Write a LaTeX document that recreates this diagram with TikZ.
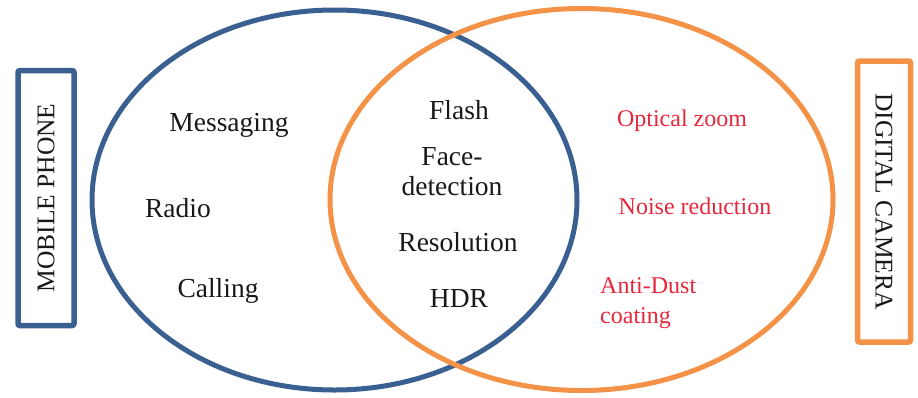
\documentclass[tikz,border=0pt]{standalone}
\usepackage{fontspec}
\setmainfont{Liberation Serif}
\usetikzlibrary{shapes.geometric}
\definecolor{vblue}{RGB}{58,96,145}
\definecolor{vorange}{RGB}{244,146,72}
\definecolor{vred}{RGB}{230,40,60}
\definecolor{vtext}{RGB}{25,25,25}
\tikzset{
  ring/.style={ellipse, line width=5pt, inner sep=0pt},
  labelbox/.style={line width=5.5pt, rounded corners=2pt, inner sep=0pt, font=\fontsize{25.5}{28}\selectfont, text=vtext},
  common/.style={font=\fontsize{27.5}{30}\selectfont, text=vtext, inner sep=0pt, align=center},
  camonly/.style={font=\fontsize{24}{30}\selectfont, text=vred, inner sep=0pt, align=left}
}
\begin{document}
\begin{tikzpicture}[x=1pt,y=-1pt]
\useasboundingbox[fill=white] (0,0) rectangle (918,397);
\node[ring, draw=vblue, minimum width=485pt, minimum height=380pt] (phone) at (334.5,200) {};
\node[ring, draw=vorange, minimum width=503pt, minimum height=382pt] (camera) at (581.5,199.5) {};
\node[labelbox, draw=vblue, rotate=90, minimum width=255pt, minimum height=56pt] (mp) at (46,198) {MOBILE PHONE};
\node[labelbox, draw=vorange, rotate=-90, minimum width=281pt, minimum height=53pt] (dc) at (884,201.5) {DIGITAL CAMERA};
\node[common] (msg) at (229,125) {Messaging};
\node[common] (radio) at (178,208) {Radio};
\node[common] (call) at (218,291) {Calling};
\node[common] (flash) at (459,110) {Flash};
\node[common] (face) at (452,172) {Face-\\detection};
\node[common] (res) at (458,242) {Resolution};
\node[common] (hdr) at (459,299) {HDR};
\node[camonly] (oz) at (682,121) {Optical zoom};
\node[camonly] (nr) at (695,206) {Noise reduction};
\node[camonly, anchor=west] (ad) at (600,303) {Anti-Dust\\coating};
\end{tikzpicture}
\end{document}
